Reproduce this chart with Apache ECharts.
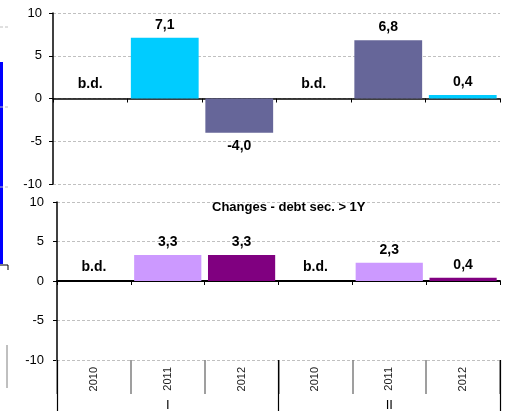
<!DOCTYPE html>
<html>
<head>
<meta charset="utf-8">
<script src="https://cdn.jsdelivr.net/npm/echarts@6/dist/echarts.min.js"></script>
<style>
html, body { margin: 0; padding: 0; background: #fff; }
#chart { width: 514px; height: 412px; }
</style>
</head>
<body>
<div id="chart"></div>
<script>
// categories
const years = ['2010', '2011', '2012', '2010', '2011', '2012']
const groups = ['I', 'II']
const bottomTitle = 'Changes - debt sec. > 1Y'

// values (null = no bar), b.d. = no data available
const topCyan = [null, 7.1, null, null, null, 0.4]
const topSlate = [null, null, -4.0, null, 6.8, null]
const botLight = [null, 3.3, null, null, 2.3, null]
const botDark = [null, null, 3.3, null, null, 0.4]
const missing = [true, false, false, true, false, false]

const font = 'Liberation Sans, Arial, sans-serif'

const fmt = p => p.value.toFixed(1).replace('.', ',')

const valueLabel = {
    show: true,
    formatter: fmt,
    fontSize: 14,
    fontWeight: 'bold',
    color: '#000',
    distance: 6
}

const toData = arr => arr.map(v => v == null ? null : {
    value: v,
    label: {position: v < 0 ? 'bottom' : 'top'}
})

const bdData = missing.map(m => m ? 0 : null)

function barSeries (data, xi, yi, stack, color) {
    return {
        type: 'bar',
        xAxisIndex: xi,
        yAxisIndex: yi,
        stack: stack,
        barCategoryGap: '9%',
        data: toData(data),
        itemStyle: {color: color},
        label: valueLabel
    }
}

function bdSeries (xi, yi, stack) {
    return {
        type: 'bar',
        xAxisIndex: xi,
        yAxisIndex: yi,
        stack: stack,
        barCategoryGap: '9%',
        data: bdData,
        itemStyle: {color: 'transparent'},
        label: {
            show: true,
            position: 'top',
            formatter: 'b.d.',
            fontSize: 14,
            fontWeight: 'bold',
            color: '#000',
            distance: 7
        }
    }
}

function valueAxis (gi, margin) {
    return {
        gridIndex: gi,
        type: 'value',
        min: -10,
        max: 10,
        interval: 5,
        axisLine: {show: true, lineStyle: {color: '#000', width: 1.5}},
        axisTick: {show: true, length: 4, lineStyle: {color: '#000'}},
        axisLabel: {fontSize: 13, color: '#000', margin: margin},
        splitLine: {show: true, lineStyle: {color: '#c0c0c0', type: [3, 2]}}
    }
}

const chart = echarts.init(document.getElementById('chart'))

const option = {
    animation: false,
    textStyle: {fontFamily: font},
    title: {
        text: bottomTitle,
        left: 212,
        top: 201,
        padding: 0,
        textStyle: {fontSize: 13, fontWeight: 'bold', color: '#000', fontFamily: font}
    },
    grid: [
        {left: 53, top: 13, width: 447, height: 171},
        {left: 57, top: 202, width: 443, height: 159}
    ],
    xAxis: [
        {
            gridIndex: 0,
            type: 'category',
            data: years,
            axisLine: {onZero: true, lineStyle: {color: '#000', width: 1.5}},
            axisTick: {show: true, interval: 0, length: 4, lineStyle: {color: '#000'}},
            axisLabel: {show: false},
            splitLine: {show: false}
        },
        {
            gridIndex: 1,
            type: 'category',
            position: 'bottom',
            data: years,
            axisLine: {onZero: true, lineStyle: {color: '#000', width: 2}},
            axisTick: {show: true, interval: 0, length: 4, lineStyle: {color: '#000'}},
            axisLabel: {show: false},
            splitLine: {show: false}
        },
        {
            gridIndex: 1,
            type: 'category',
            position: 'bottom',
            data: years,
            axisLine: {show: false, onZero: false},
            axisTick: {show: true, interval: 0, length: 34, lineStyle: {color: '#808080', width: 1.5}},
            axisLabel: {interval: 0, rotate: 90, fontSize: 11, color: '#222', margin: 7},
            splitLine: {show: false}
        },
        {
            gridIndex: 1,
            type: 'category',
            position: 'bottom',
            data: groups,
            axisLine: {show: false, onZero: false},
            axisTick: {show: true, interval: 0, length: 51, lineStyle: {color: '#000', width: 1.2}},
            axisLabel: {interval: 0, fontSize: 13, color: '#000', margin: 39},
            splitLine: {show: false}
        }
    ],
    yAxis: [valueAxis(0, 11), valueAxis(1, 13)],
    series: [
        barSeries(topCyan, 0, 0, 'top', '#00ccff'),
        barSeries(topSlate, 0, 0, 'top', '#666699'),
        bdSeries(0, 0, 'top'),
        barSeries(botLight, 2, 1, 'bot', '#cc99ff'),
        barSeries(botDark, 2, 1, 'bot', '#800080'),
        bdSeries(2, 1, 'bot')
    ],
    // bits of the neighbouring chart cut off at the left edge
    graphic: [
        {type: 'rect', shape: {x: 0, y: 62, width: 3, height: 202}, style: {fill: '#0000ff'}},
        {type: 'polyline', shape: {points: [[0, 265], [8, 265], [8, 270]]}, style: {stroke: '#000', lineWidth: 1, fill: null}},
        {type: 'line', shape: {x1: 0, y1: 27, x2: 8, y2: 27}, style: {stroke: '#c0c0c0', lineDash: [3, 2]}},
        {type: 'line', shape: {x1: 0, y1: 107, x2: 8, y2: 107}, style: {stroke: '#c0c0c0', lineDash: [3, 2]}},
        {type: 'line', shape: {x1: 0, y1: 187, x2: 8, y2: 187}, style: {stroke: '#c0c0c0', lineDash: [3, 2]}},
        {type: 'line', shape: {x1: 7, y1: 345, x2: 7, y2: 388}, style: {stroke: '#808080', lineWidth: 1}}
    ]
}

chart.setOption(option)
</script>
</body>
</html>
